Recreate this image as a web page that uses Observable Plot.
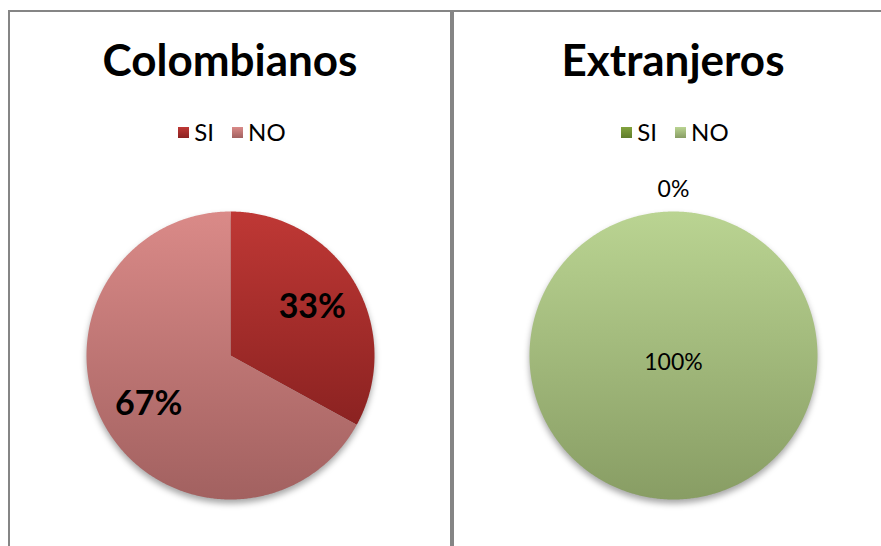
<!DOCTYPE html>
<html>
<head>
<meta charset="utf-8">
<script src="https://cdn.jsdelivr.net/npm/d3@7"></script>
<script src="https://cdn.jsdelivr.net/npm/@observablehq/plot@0.6"></script>
<style>
  html, body { margin: 0; padding: 0; background: #fff; }
  #root { position: relative; width: 881px; height: 546px; overflow: hidden; background: #fff;
          font-family: Lato, "Open Sans", sans-serif; color: #000; }
  .rule { position: absolute; background: #858585; }
  .title { position: absolute; width: 440px; text-align: center; font-weight: 700; font-size: 44px; line-height: 46px; }
  .legend { position: absolute; width: 440px; display: flex; justify-content: center; align-items: center; font-size: 24px; line-height: 26px; }
  .legend .item { display: flex; align-items: center; margin: 0 9px; }
  .legend .sw { width: 11px; height: 11px; margin-right: 5px; }
  .pie { position: absolute; }
</style>
</head>
<body>
<div id="root"></div>
<script>
// ---- data ----
const panels = ["Colombianos", "Extranjeros"];
const categories = ["SI", "NO"];
const colombianos = [33, 67];
const extranjeros = [0, 100];
const seriesValues = [colombianos, extranjeros];

// ---- styles ----
const gradients = [
  { SI: ["#bf3835", "#8b2221"], NO: ["#da8a88", "#a26160"] },
  { SI: ["#82a33e", "#5f7c2a"], NO: ["#bad492", "#889d64"] }
];
const panelCenters = [230, 673];
const pieCenterY = 355;
const R = 144;
const SIZE = 360;
const DOMAIN = SIZE / 2 / R;

const root = document.getElementById("root");
function rule(l, t, w, h) {
  const d = document.createElement("div");
  d.className = "rule";
  Object.assign(d.style, { left: l + "px", top: t + "px", width: w + "px", height: h + "px" });
  root.appendChild(d);
}
rule(8, 10, 873, 2);
rule(8, 10, 2, 536);
rule(450, 10, 4, 536);

panels.forEach((name, pi) => {
  const cx = panelCenters[pi];
  const values = seriesValues[pi];
  const total = d3.sum(values);

  const t = document.createElement("div");
  t.className = "title";
  t.textContent = name;
  t.style.left = (cx - 220) + "px";
  t.style.top = "36px";
  root.appendChild(t);

  const lg = document.createElement("div");
  lg.className = "legend";
  lg.style.left = (cx - 220 + 2) + "px";
  lg.style.top = "119px";
  categories.forEach(c => {
    const it = document.createElement("div");
    it.className = "item";
    const sw = document.createElement("div");
    sw.className = "sw";
    sw.style.background = `linear-gradient(${gradients[pi][c][0]}, ${gradients[pi][c][1]})`;
    const tx = document.createElement("span");
    tx.textContent = c;
    it.appendChild(sw); it.appendChild(tx);
    lg.appendChild(it);
  });
  root.appendChild(lg);

  // pie geometry from data
  const arcs = d3.pie().sort(null).value(d => d.v)(categories.map((c, i) => ({ c, v: values[i] })));
  const pts = [];
  const labels = [];
  arcs.forEach(a => {
    const steps = Math.max(2, Math.ceil((a.endAngle - a.startAngle) / (Math.PI / 360)));
    pts.push({ c: a.data.c, x: 0, y: 0 });
    for (let k = 0; k <= steps; k++) {
      const ang = a.startAngle + (a.endAngle - a.startAngle) * k / steps;
      pts.push({ c: a.data.c, x: Math.sin(ang), y: Math.cos(ang) });
    }
    const share = a.data.v / total;
    const mid = (a.startAngle + a.endAngle) / 2;
    const lr = share === 0 ? 1.15 : share === 1 ? 0 : 0.66;
    labels.push({ c: a.data.c, x: lr * Math.sin(mid), y: share === 1 ? -0.05 : lr * Math.cos(mid), text: Math.round(share * 100) + "%" });
  });

  const big = pi === 0;
  const chart = Plot.plot({
    width: SIZE, height: SIZE, margin: 0,
    x: { domain: [-DOMAIN, DOMAIN], axis: null },
    y: { domain: [-DOMAIN, DOMAIN], axis: null },
    color: { domain: categories, range: categories.map(c => `url(#g${pi}${c})`) },
    style: { fontFamily: "Lato, 'Open Sans', sans-serif", background: "transparent", overflow: "visible" },
    marks: [
      Plot.line(pts, { x: "x", y: "y", z: "c", fill: "c", stroke: "none", curve: "linear" }),
      Plot.text(labels, { x: "x", y: "y", text: "text", fontSize: big ? 34 : 23, fontWeight: big ? 700 : 400, fill: "#000" })
    ]
  });
  const svg = d3.select(chart);
  const defs = svg.insert("defs", ":first-child");
  categories.forEach(c => {
    const g = defs.append("linearGradient").attr("id", `g${pi}${c}`).attr("x1", 0).attr("y1", 0).attr("x2", 0).attr("y2", 1);
    g.append("stop").attr("offset", "0%").attr("stop-color", gradients[pi][c][0]);
    g.append("stop").attr("offset", "100%").attr("stop-color", gradients[pi][c][1]);
  });
  svg.select('g[aria-label="line"]').style("filter", "drop-shadow(0px 4px 3px rgba(0,0,0,0.35))");
  chart.classList.add("pie");
  chart.style.left = (cx - SIZE / 2) + "px";
  chart.style.top = (pieCenterY - SIZE / 2) + "px";
  root.appendChild(chart);
});
</script>
</body>
</html>
